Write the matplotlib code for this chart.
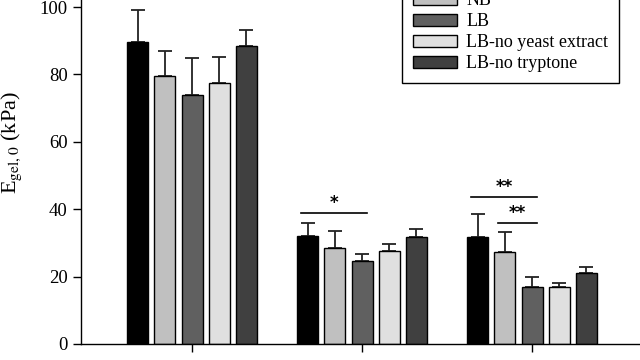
import numpy as np
import matplotlib.pyplot as plt
from matplotlib.patches import Patch

plt.rcParams["font.family"] = ["Liberation Serif", "DejaVu Serif"]
plt.rcParams["mathtext.fontset"] = "stix"

# Data (three conditions, five media)
media = ["", "NB", "LB", "LB-no yeast extract", "LB-no tryptone"]
colors = ["#000000", "#c0c0c0", "#606060", "#e0e0e0", "#404040"]
means = np.array([
    [89.5, 79.6, 74.0, 77.5, 88.5],
    [32.0, 28.5, 24.7, 27.5, 31.7],
    [31.8, 27.2, 16.9, 16.9, 21.2],
])
errors = np.array([
    [9.5, 7.4, 11.0, 7.8, 4.6],
    [4.0, 5.0, 2.1, 2.2, 2.4],
    [6.7, 5.9, 2.9, 1.1, 1.7],
])
# significance brackets: (group, bar a, bar b, y level, label)
brackets = [
    (1, 0, 2, 38.8, "*"),
    (2, 0, 2, 43.7, "**"),
    (2, 1, 2, 36.0, "**"),
]

fig = plt.figure(figsize=(6.4, 3.6), dpi=100)
ax = fig.add_axes([81 / 640, 16 / 360, 1 - 81 / 640, 344 / 360])

groups = np.arange(means.shape[0])
width = 0.1235
pitch = 0.16
offsets = (np.arange(len(media)) - 2) * pitch

for j in range(len(media)):
    x = groups + offsets[j]
    ax.bar(x, means[:, j], width, color=colors[j], edgecolor="black",
           linewidth=1.0, zorder=2)
    ax.errorbar(x, means[:, j], yerr=[np.zeros(len(groups)), errors[:, j]],
                fmt="none", ecolor="#222222", elinewidth=1.3, capsize=5,
                capthick=1.3, zorder=1)

for g, a, b, y, lab in brackets:
    xa = g + offsets[a] - 0.04
    xb = g + offsets[b] + 0.03
    ax.plot([xa, xb], [y, y], color="black", linewidth=1.2)
    ax.text((xa + xb) / 2, y + 0.3, lab, ha="center", va="bottom",
            fontsize=12, fontweight="bold", family="DejaVu Sans")

ax.set_xlim(-0.653, 2.635)
ax.set_ylim(0, 102.1)
ax.set_yticks([0, 20, 40, 60, 80, 100])
ax.set_xticks(groups)
ax.set_xticklabels([])
ax.tick_params(axis="both", direction="out", length=6, width=1, labelsize=13.5)
for s in ["top", "right"]:
    ax.spines[s].set_visible(False)
ax.spines["left"].set_linewidth(1)
ax.spines["bottom"].set_linewidth(1)
ax.set_ylabel(r"E$_{\mathrm{gel,0}}$ (kPa)", fontsize=16, va="center")
ax.yaxis.set_label_coords(-0.123, 0.584)

handles = [Patch(facecolor=colors[j], edgecolor="black", label=media[j])
           for j in range(1, len(media))]
fig.legend(handles=handles, loc="lower left",
           bbox_to_anchor=(402 / 640, 277 / 360), fontsize=13,
           frameon=True, fancybox=False, framealpha=1, edgecolor="black",
           borderaxespad=0, borderpad=0.6, labelspacing=0.22,
           handlelength=2.45, handleheight=0.6, handletextpad=0.5)

plt.savefig("out.png", dpi=100)
